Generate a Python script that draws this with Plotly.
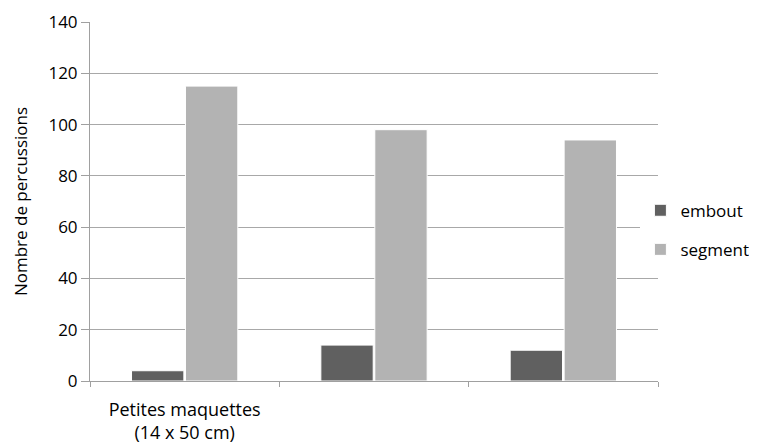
import plotly.graph_objects as go

categories = ["Petites maquettes<br>(14 x 50 cm)", " ", "  "]
embout = [4, 14, 12]
segment = [115, 98, 94]
y_ticks = [0, 20, 40, 60, 80, 100, 120, 140]

fig = go.Figure()
fig.add_trace(go.Bar(name="embout", x=categories, y=embout, legendgroup="a",
                     marker=dict(color="#606060", line=dict(color="white", width=1))))
fig.add_trace(go.Bar(name="segment", x=categories, y=segment, legendgroup="b",
                     marker=dict(color="#b3b3b3", line=dict(color="white", width=1))))

font_family = "Open Sans, Liberation Sans, sans-serif"
# page body has an 8px default margin, so size the figure to fit the window
fig.update_layout(
    width=749, height=437,
    margin=dict(l=82, r=99, t=14, b=64, autoexpand=False),
    paper_bgcolor="white", plot_bgcolor="white",
    barmode="group", bargap=0.43, bargroupgap=0.03,
    font=dict(family=font_family, color="#000000", size=17),
    legend=dict(x=0.969, y=0.42, yanchor="middle", xanchor="left",
                font=dict(size=17), itemwidth=30, tracegroupgap=14,
                traceorder="grouped"),
    xaxis=dict(type="category", tickson="boundaries", ticks="outside", ticklen=5,
               tickcolor="#a0a0a0", showline=True, linecolor="#a0a0a0", linewidth=1,
               showgrid=False, tickfont=dict(size=18), ticklabelstandoff=12),
    yaxis=dict(range=[0, 140], tickvals=y_ticks, ticks="outside", ticklen=8,
               tickcolor="#a0a0a0", showline=True, linecolor="#a0a0a0", linewidth=1,
               showgrid=True, gridcolor="#a8a8a8", gridwidth=1, zeroline=False,
               tickfont=dict(size=17),
               title=dict(text="Nombre de percussions", font=dict(size=17), standoff=16)),
)
fig.write_html("out.html")
